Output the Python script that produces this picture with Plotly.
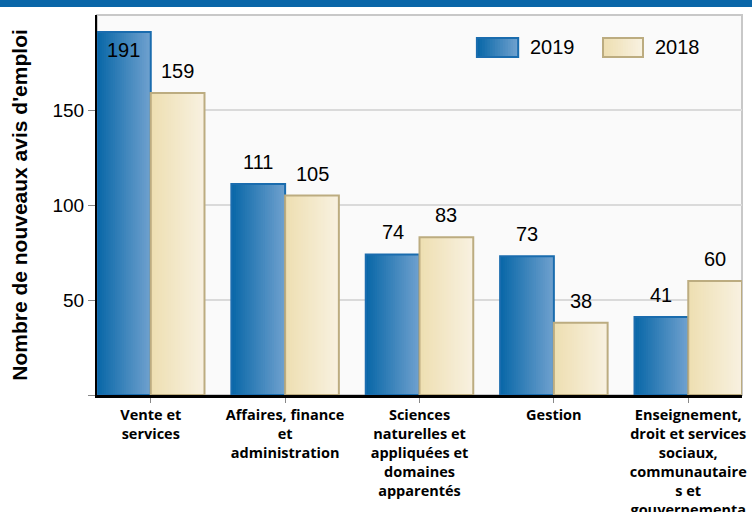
import plotly.graph_objects as go

categories = [
    "Vente et<br>services",
    "Affaires, finance<br>et<br>administration",
    "Sciences<br>naturelles et<br>appliquées et<br>domaines<br>apparentés",
    "Gestion",
    "Enseignement,<br>droit et services<br>sociaux,<br>communautaire<br>s et<br>gouvernementa<br>ux",
]
series_names = ["2019", "2018"]
values_2019 = [191, 111, 74, 73, 41]
values_2018 = [159, 105, 83, 38, 60]
y_ticks = [0, 50, 100, 150]
y_ticklabels = ["", "50", "100", "150"]

series = [values_2019, values_2018]
grad = [((10, 104, 168), (110, 160, 206)), ((238, 223, 178), (248, 241, 224))]
borders = ["#1a6cae", "#bcac80"]
BW = 0.4
offsets = [-0.4, 0.0]
N = 24
FONT = "Liberation Sans, Arial"


def mix(c0, c1, t):
    return "rgb(%d,%d,%d)" % tuple(round(a + (b - a) * t) for a, b in zip(c0, c1))


fig = go.Figure()
for s, vals in enumerate(series):
    c0, c1 = grad[s]
    for k in range(N):
        start = k * BW / N
        fig.add_trace(go.Bar(
            x=categories, y=vals, width=BW - start, offset=offsets[s] + start,
            marker=dict(color=mix(c0, c1, k / (N - 1)), line=dict(width=0)),
            showlegend=False, hoverinfo="skip"))
    fig.add_trace(go.Bar(
        x=categories, y=vals, width=BW, offset=offsets[s], name=series_names[s],
        marker=dict(color="rgba(0,0,0,0)", line=dict(color=borders[s], width=2)),
        showlegend=False))

annotations = []
for s, vals in enumerate(series):
    for i, v in enumerate(vals):
        xc = i + offsets[s] + BW / 2
        if v > 180:
            annotations.append(dict(x=xc, y=v, text=str(v), showarrow=False, yanchor="top", yshift=-5,
                                    font=dict(size=20, color="black", family=FONT)))
        else:
            annotations.append(dict(x=xc, y=v, text=str(v), showarrow=False, yanchor="bottom", yshift=9,
                                    font=dict(size=20, color="black", family=FONT)))

# custom legend
shapes = []
leg = [(0.589, 0.653, 0.668), (0.7845, 0.8465, 0.862)]
for s, (x0, x1, xt) in enumerate(leg):
    c0, c1 = grad[s]
    M = 16
    for k in range(M):
        shapes.append(dict(type="rect", xref="paper", yref="paper",
                           x0=x0 + (x1 - x0) * k / M, x1=x1,
                           y0=0.8895, y1=0.9395, line=dict(width=0),
                           fillcolor=mix(c0, c1, k / (M - 1))))
    shapes.append(dict(type="rect", xref="paper", yref="paper", x0=x0, x1=x1, y0=0.8895, y1=0.9395,
                       line=dict(color=borders[s], width=2), fillcolor="rgba(0,0,0,0)"))
    annotations.append(dict(xref="paper", yref="paper", x=xt, y=0.9145, text=series_names[s],
                            showarrow=False, xanchor="left", yanchor="middle",
                            font=dict(size=20, color="black", family=FONT)))

# plot border (gray top/right)
shapes.append(dict(type="rect", xref="paper", yref="paper", x0=0, x1=1, y0=0, y1=1,
                   line=dict(color="#c8c8c8", width=2), layer="below"))
# top banner
shapes.append(dict(type="rect", xref="paper", yref="paper", x0=-0.2, x1=1.1, y0=1.021, y1=1.06,
                   line=dict(width=0), fillcolor="#0a66a8"))

fig.update_layout(
    width=752, height=512,
    margin=dict(l=97, r=10, t=15, b=117),
    barmode="overlay",
    paper_bgcolor="white", plot_bgcolor="#fafafa",
    showlegend=False,
    shapes=shapes, annotations=annotations,
    font=dict(family=FONT, color="black"),
)
fig.update_xaxes(
    type="category", range=[-0.4, 4.4], automargin=False,
    showline=True, linecolor="black", linewidth=3,
    ticks="outside", ticklen=5, tickcolor="#888888", tickwidth=1,
    tickfont=dict(size=14.5, family="Open Sans, Liberation Sans", weight="bold", color="black"),
    showgrid=False, zeroline=False,
)
fig.update_yaxes(
    range=[0, 200], tickvals=y_ticks, ticktext=y_ticklabels, automargin=False,
    showline=True, linecolor="black", linewidth=2,
    ticks="outside", ticklen=7, tickcolor="#888888", tickwidth=1,
    tickfont=dict(size=19, family=FONT, color="black"),
    showgrid=True, gridcolor="#dadada", gridwidth=2, zeroline=False,
    title=dict(text="Nombre de nouveaux avis d'emploi", standoff=19,
               font=dict(size=21, family=FONT, weight="bold", color="black")),
)

fig.write_html("out.html")
